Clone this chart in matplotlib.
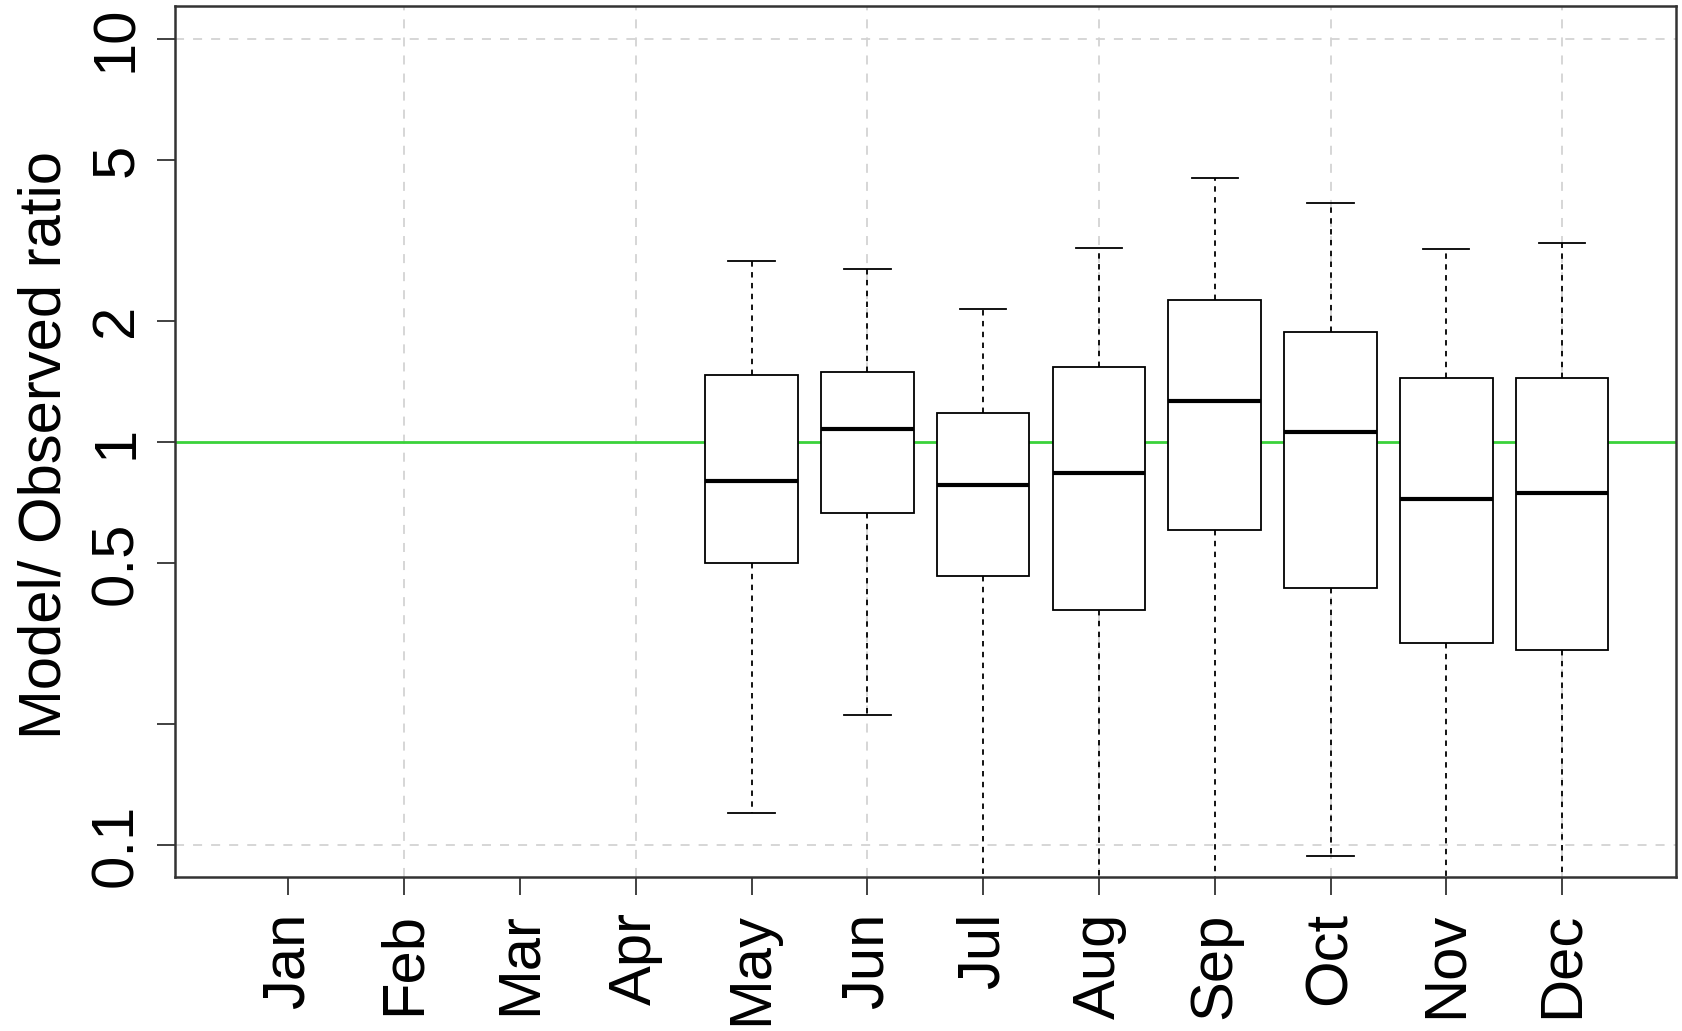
import numpy as np
import matplotlib
matplotlib.use("Agg")
import matplotlib.pyplot as plt

# Data (monthly box statistics of model/observed ratio)
# ----------
months = ['Jan', 'Feb', 'Mar', 'Apr', 'May', 'Jun',
          'Jul', 'Aug', 'Sep', 'Oct', 'Nov', 'Dec']
box_months = [5, 6, 7, 8, 9, 10, 11, 12]
whislo = [0.120, 0.210, 0.050, 0.050, 0.050, 0.094, 0.050, 0.050]
q1 = [0.500, 0.667, 0.465, 0.382, 0.605, 0.435, 0.318, 0.305]
med = [0.802, 1.076, 0.783, 0.837, 1.262, 1.057, 0.723, 0.745]
q3 = [1.462, 1.489, 1.180, 1.535, 2.244, 1.868, 1.444, 1.444]
whishi = [2.816, 2.680, 2.138, 3.030, 4.510, 3.920, 3.010, 3.120]
ytick_vals = [0.1, 0.2, 0.5, 1, 2, 5, 10]
ytick_labels = ['0.1', '', '0.5', '1', '2', '5', '10']
# ----------

plt.rcParams['font.family'] = ['Liberation Sans', 'DejaVu Sans']

fig = plt.figure(figsize=(16.82, 10.31), dpi=100, facecolor='white')
ax = fig.add_axes([0.104, 0.1489, 0.8922, 0.8449])

ax.set_yscale('log')
ax.set_xlim(0.02, 12.98)
ax.set_ylim(10 ** -1.08, 10 ** 1.08)

# grid like R's grid(): every second month, decades on y
for m in [2, 4, 6, 8, 10, 12]:
    ax.axvline(m, color='#d3d3d3', lw=1.3, ls=(0, (5, 5)), zorder=1)
for v in [0.1, 10]:
    ax.axhline(v, color='#d3d3d3', lw=1.3, ls=(0, (5, 5)), zorder=1)

ax.axhline(1, color='#3ad23a', lw=2, zorder=2)

stats = []
for i in range(len(box_months)):
    stats.append(dict(whislo=whislo[i], q1=q1[i], med=med[i], q3=q3[i],
                      whishi=whishi[i], fliers=[]))

ax.bxp(stats, positions=box_months, widths=0.8, patch_artist=True,
       showfliers=False, manage_ticks=False,
       boxprops=dict(facecolor='white', edgecolor='black', linewidth=1.3),
       medianprops=dict(color='black', linewidth=3),
       whiskerprops=dict(color='black', linewidth=1.3, linestyle=(0, (3, 3))),
       capprops=dict(color='black', linewidth=1.3), capwidths=0.4,
       zorder=3)

ax.set_yticks(ytick_vals)
ax.set_yticklabels(ytick_labels)
ax.yaxis.set_minor_locator(matplotlib.ticker.NullLocator())
ax.set_xticks(range(1, 13))
ax.set_xticklabels(months, rotation=90)

ax.tick_params(axis='y', length=13, width=1.3, pad=9, labelsize=43,
               labelrotation=90, color='#333333')
ax.tick_params(axis='x', length=13, width=1.3, pad=12, labelsize=43,
               color='#333333')
for lab in ax.get_yticklabels():
    lab.set_verticalalignment('center')

for s in ax.spines.values():
    s.set_linewidth(1.8)
    s.set_color('#333333')

fig.text(0.0268, 1 - 445 / 1031, 'Model/ Observed ratio', rotation=90,
         ha='center', va='center', fontsize=43)

plt.savefig('out.png', facecolor='white')
